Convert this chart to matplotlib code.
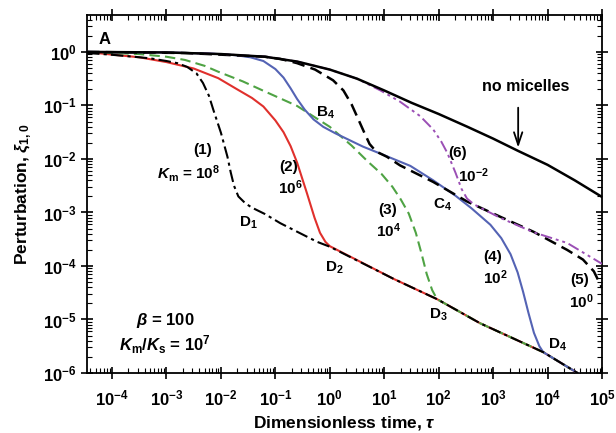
import numpy as np
import matplotlib
matplotlib.use('Agg')
import matplotlib.pyplot as plt

plt.rcParams['font.family'] = ['Liberation Sans', 'DejaVu Sans']
plt.rcParams['font.weight'] = 'bold'
plt.rcParams['mathtext.fontset'] = 'custom'
plt.rcParams['mathtext.rm'] = 'Liberation Sans:bold'
plt.rcParams['mathtext.bf'] = 'Liberation Sans:bold'
plt.rcParams['mathtext.it'] = 'Liberation Sans:italic:bold'

# values, as log10(tau), log10(xi)
tail_t = [1.17, 1.97, 2.76, 3.92, 4.55, 4.80]
tail_y = [-4.24, -4.62, -5.07, -5.61, -6.00, -6.10]

nomic_t = [-4.46, -3.0, -2.0, -1.19, -0.60, 0.0, 0.5, 1.0, 1.5, 2.0, 2.53, 3.0, 3.46, 4.0, 4.5, 5.0]
nomic_y = [0.0, -0.01, -0.04, -0.09, -0.18, -0.33, -0.50, -0.72, -0.95, -1.16, -1.40, -1.62,
           -1.85, -2.11, -2.40, -2.71]

k1_t = [-4.46, -4.04, -3.6, -3.3, -3.0, -2.8, -2.62, -2.45, -2.33, -2.22, -2.14, -2.0, -1.88,
        -1.82, -1.76, -1.68, -1.55, -1.43, -1.19, -0.91, -0.60, -0.23, 0.0] + tail_t
k1_y = [-0.02, -0.05, -0.09, -0.12, -0.17, -0.21, -0.28, -0.40, -0.58, -0.82, -1.08, -1.51,
        -1.96, -2.25, -2.50, -2.70, -2.83, -2.91, -3.03, -3.20, -3.36, -3.55, -3.64] + tail_y

k2_t = [-4.46, -4.0, -3.5, -3.0, -2.5, -2.05, -1.7, -1.43, -1.22, -1.0, -0.85, -0.72, -0.60,
        -0.42, -0.28, -0.18, -0.08, 0.0] + tail_t
k2_y = [0.0, -0.05, -0.10, -0.19, -0.31, -0.49, -0.70, -0.86, -1.02, -1.28, -1.50, -1.76,
        -2.07, -2.64, -3.10, -3.38, -3.55, -3.63] + tail_y

k3_t = [-4.46, -3.5, -3.0, -2.66, -2.3, -2.05, -1.6, -1.19, -0.6, 0.0, 0.4, 0.7, 0.95, 1.15,
        1.3, 1.45, 1.58, 1.68, 1.78, 1.88] + tail_t[1:]
k3_y = [0.0, -0.04, -0.09, -0.15, -0.26, -0.37, -0.55, -0.74, -1.01, -1.40, -1.75, -2.05,
        -2.28, -2.52, -2.75, -3.02, -3.38, -3.75, -4.15, -4.45] + tail_y[1:]

k4_t = [-4.46, -3.0, -2.2, -1.74, -1.46, -1.22, -1.0, -0.85, -0.72, -0.60, -0.46, -0.30,
        -0.12, 0.1, 0.61, 1.0, 1.48, 1.90, 2.3, 2.6, 2.95, 3.15, 3.32, 3.45, 3.55, 3.65,
        3.75, 3.85, 3.92, 4.55, 4.80]
k4_y = [0.0, -0.01, -0.03, -0.06, -0.10, -0.17, -0.32, -0.48, -0.68, -0.88, -1.08, -1.26,
        -1.40, -1.52, -1.77, -1.93, -2.13, -2.40, -2.68, -2.92, -3.23, -3.48, -3.78, -4.12,
        -4.48, -4.88, -5.25, -5.50, -5.61, -6.00, -6.10]

k5_t = [-4.46, -2.66, -1.19, -0.91, -0.60, -0.27, 0.06, 0.25, 0.40, 0.52, 0.63, 0.73, 0.85,
        1.05, 1.29, 1.90, 2.53, 3.13, 3.74, 4.36, 4.65, 4.85, 5.00]
k5_y = [0.0, -0.02, -0.09, -0.13, -0.21, -0.33, -0.53, -0.72, -0.98, -1.25, -1.50, -1.72,
        -1.86, -1.96, -2.12, -2.43, -2.80, -3.08, -3.36, -3.70, -3.88, -4.10, -4.41]

k6_t = [-4.46, -3.0, -2.0, -1.19, -0.60, 0.0, 0.5, 0.93, 1.29, 1.66, 1.90, 2.05, 2.16, 2.31,
        2.42, 2.52, 2.65, 3.13, 3.74, 4.36, 5.00]
k6_y = [0.0, -0.01, -0.04, -0.09, -0.18, -0.33, -0.50, -0.72, -0.93, -1.20, -1.45, -1.68,
        -1.89, -2.26, -2.56, -2.74, -2.85, -3.10, -3.37, -3.57, -3.96]

x_ticks = [-4, -3, -2, -1, 0, 1, 2, 3, 4, 5]
y_ticks = [0, -1, -2, -3, -4, -5, -6]

def p(v):
    return np.power(10.0, np.asarray(v, dtype=float))

fig = plt.figure(figsize=(6.16, 4.33), dpi=100)
ax = fig.add_axes([87/616, 1 - 373/433, (602 - 87)/616, (373 - 15)/433])

ax.plot(p(nomic_t), p(nomic_y), color='black', lw=1.8, zorder=5)
ax.plot(p(k5_t), p(k5_y), color='black', lw=1.8, ls=(0, (5, 2.5)), zorder=4)
ax.plot(p(k6_t), p(k6_y), color='#9b4fb5', lw=1.4, ls=(0, (6, 2, 1.5, 2, 1.5, 2)), zorder=4)
ax.plot(p(k2_t), p(k2_y), color='#e0302c', lw=1.5, zorder=3)
ax.plot(p(k3_t), p(k3_y), color='#4fa344', lw=1.5, ls=(0, (5, 2.5)), zorder=3)
ax.plot(p(k4_t), p(k4_y), color='#5463b4', lw=1.5, zorder=3)
ax.plot(p(k1_t), p(k1_y), color='black', lw=1.5, ls=(0, (6, 2, 1.5, 2)), zorder=4)

ax.set_xscale('log')
ax.set_yscale('log')
ax.set_xlim(10**-4.46, 1e5)
ax.set_ylim(1e-6, 10**0.69)
ax.set_xticks(p(x_ticks))
ax.set_xticklabels([r'$\mathbf{10^{%d}}$' % v for v in x_ticks])
ax.set_yticks(p(y_ticks))
ax.set_yticklabels([r'$\mathbf{10^{%d}}$' % v for v in y_ticks])
ax.xaxis.set_minor_locator(matplotlib.ticker.LogLocator(base=10, subs=np.arange(2, 10), numticks=30))
ax.yaxis.set_minor_locator(matplotlib.ticker.LogLocator(base=10, subs=np.arange(2, 10), numticks=30))
ax.xaxis.set_minor_formatter(matplotlib.ticker.NullFormatter())
ax.yaxis.set_minor_formatter(matplotlib.ticker.NullFormatter())
ax.tick_params(which='major', direction='inout', length=9, width=1.2, labelsize=12,
               top=True, right=True)
ax.tick_params(which='minor', direction='in', length=3.5, width=0.8, top=True, right=True)
ax.tick_params(axis='x', which='major', pad=7)
ax.tick_params(axis='y', which='major', pad=3)
for s in ax.spines.values():
    s.set_linewidth(1.3)

ax.set_xlabel(r'Dimensionless time, $\tau$', fontsize=12.5, fontweight='bold', labelpad=4)
ax.set_ylabel(r'Perturbation, $\xi_{\mathbf{1,0}}$', fontsize=12.5, fontweight='bold', labelpad=6)

def lab(lx, ly, s, size=11):
    ax.text(10**lx, 10**ly, s, fontsize=size, fontweight='bold', ha='center', va='center')

lab(-4.13, 0.24, 'A', 12)
lab(-2.33, -1.83, '(1)')
lab(-2.60, -2.28, r'$K_{\mathbf{m}}$ = 10$^{\mathbf{8}}$')
lab(-0.76, -2.15, '(2)')
lab(-0.73, -2.54, r'10$^{\mathbf{6}}$')
lab(1.06, -2.95, '(3)')
lab(1.07, -3.35, r'10$^{\mathbf{4}}$')
lab(3.00, -3.83, '(4)')
lab(3.04, -4.21, r'10$^{\mathbf{2}}$')
lab(4.58, -4.26, '(5)')
lab(4.62, -4.67, r'10$^{\mathbf{0}}$')
lab(2.34, -1.89, '(6)')
lab(2.64, -2.32, r'10$^{\mathbf{-2}}$')
lab(-0.08, -1.14, r'$\mathbf{B_4}$')
lab(2.07, -2.86, r'$\mathbf{C_4}$')
lab(-1.50, -3.20, r'$\mathbf{D_1}$')
lab(0.08, -4.04, r'$\mathbf{D_2}$')
lab(1.99, -4.92, r'$\mathbf{D_3}$')
lab(4.18, -5.48, r'$\mathbf{D_4}$')
lab(3.59, -0.65, 'no micelles', 11.5)
lab(-3.03, -5.01, r'$\beta$ = 100', 12)
lab(-3.03, -5.48, r'$K_{\mathbf{m}}$/$K_{\mathbf{s}}$ = 10$^{\mathbf{7}}$', 12)

ax.annotate('', xy=(10**3.46, 10**-1.84), xytext=(10**3.46, 10**-0.99),
            arrowprops=dict(arrowstyle='->,head_length=0.9,head_width=0.3', lw=1.3, color='black'))

fig.savefig('out.png', dpi=100)
